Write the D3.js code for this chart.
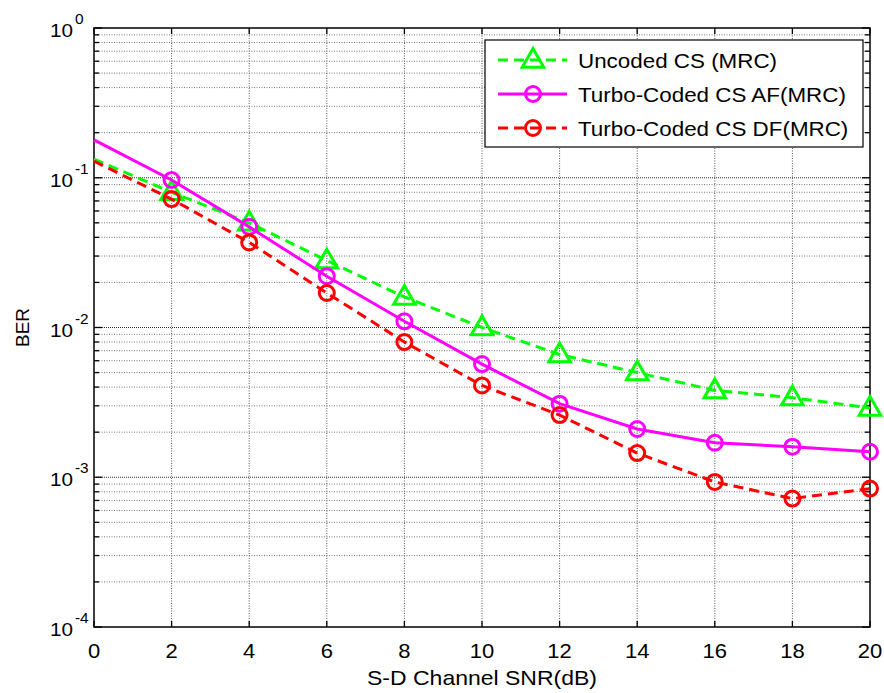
<!DOCTYPE html>
<html><head><meta charset="utf-8">
<script src="https://cdn.jsdelivr.net/npm/d3@7"></script>
<style>body{margin:0;background:#fff}svg{display:block}text{font-family:"Liberation Sans",Arial,sans-serif;fill:#000}</style>
</head><body><svg id="c" width="884" height="693"></svg>
<script>
const snr = [0,2,4,6,8,10,12,14,16,18,20];
const uncoded = [0.133,0.080,0.050,0.028,0.016,0.0100,0.0066,0.0050,0.0038,0.0034,0.0029];
const turboAF = [0.179,0.0966,0.047,0.022,0.011,0.0057,0.0031,0.0021,0.0017,0.0016,0.00148];
const turboDF = [0.129,0.072,0.037,0.017,0.0080,0.0041,0.0026,0.00145,0.00093,0.00072,0.00084];
const xTicks = [0,2,4,6,8,10,12,14,16,18,20];
const yExps = [0,-1,-2,-3,-4];
const seriesNames = ["Uncoded CS (MRC)","Turbo-Coded CS AF(MRC)","Turbo-Coded CS DF(MRC)"];

const svg = d3.select("#c");
const L=94,R=870,T=28,B=627;
const x = d3.scaleLinear().domain([0,20]).range([L,R]);
const y = d3.scaleLog().domain([1e-4,1]).range([B,T]);

// grid
const g = svg.append("g");
xTicks.filter(v=>v>0&&v<20).forEach(v=>{
  g.append("line").attr("x1",x(v)).attr("x2",x(v)).attr("y1",T).attr("y2",B)
   .attr("stroke","#555").attr("stroke-width",1).attr("stroke-dasharray","1,1.5");
});
const minor=[];
for(let e=-4;e<0;e++){for(let m=2;m<=9;m++)minor.push(m*Math.pow(10,e));}
minor.forEach(v=>{
  g.append("line").attr("x1",L).attr("x2",R).attr("y1",y(v)).attr("y2",y(v))
   .attr("stroke","#777").attr("stroke-width",1).attr("stroke-dasharray","1,1.5");
});
yExps.filter(e=>e>-4&&e<0).forEach(e=>{
  g.append("line").attr("x1",L).attr("x2",R).attr("y1",y(Math.pow(10,e))).attr("y2",y(Math.pow(10,e)))
   .attr("stroke","#333").attr("stroke-width",1.2).attr("stroke-dasharray","1,1");
});

// ticks
const tk = svg.append("g").attr("stroke","#000").attr("stroke-width",1.3);
minor.forEach(v=>{
  tk.append("line").attr("x1",L).attr("x2",L+5).attr("y1",y(v)).attr("y2",y(v));
  tk.append("line").attr("x1",R).attr("x2",R-5).attr("y1",y(v)).attr("y2",y(v));
});
yExps.forEach(e=>{
  const v=Math.pow(10,e);
  tk.append("line").attr("x1",L).attr("x2",L+8).attr("y1",y(v)).attr("y2",y(v));
  tk.append("line").attr("x1",R).attr("x2",R-8).attr("y1",y(v)).attr("y2",y(v));
});
xTicks.forEach(v=>{
  tk.append("line").attr("x1",x(v)).attr("x2",x(v)).attr("y1",B).attr("y2",B-6);
  tk.append("line").attr("x1",x(v)).attr("x2",x(v)).attr("y1",T).attr("y2",T+6);
});

// box
svg.append("rect").attr("x",L).attr("y",T).attr("width",R-L).attr("height",B-T)
  .attr("fill","none").attr("stroke","#000").attr("stroke-width",1.5);

// tick labels
xTicks.forEach(v=>{
  svg.append("g").attr("transform",`translate(${x(v)},658) scale(1.1,1)`)
    .append("text").attr("text-anchor","middle").attr("font-size",20).text(v);
});
yExps.forEach(e=>{
  const yy=y(Math.pow(10,e));
  svg.append("g").attr("transform",`translate(73,${yy+9}) scale(1.15,1)`)
    .append("text").attr("text-anchor","end").attr("font-size",18).text("10");
  svg.append("g").attr("transform",`translate(75,${yy-4}) scale(1.1,1)`)
    .append("text").attr("text-anchor","start").attr("font-size",14).text(String(e));
});

// axis labels
svg.append("g").attr("transform",`translate(${(L+R)/2},685) scale(1.15,1)`)
  .append("text").attr("text-anchor","middle").attr("font-size",20).text("S-D Channel SNR(dB)");
svg.append("text").attr("transform",`translate(29,${(T+B)/2}) rotate(-90)`)
  .attr("text-anchor","middle").attr("font-size",19).text("BER");

// series
const series=[
  {name:seriesNames[0],vals:uncoded,color:"#00ff00",dash:"10,6",marker:"tri"},
  {name:seriesNames[1],vals:turboAF,color:"#ff00ff",dash:null,marker:"circ"},
  {name:seriesNames[2],vals:turboDF,color:"#ff0000",dash:"10,6",marker:"circ"}
];
const line=d3.line().x(d=>x(d[0])).y(d=>y(d[1]));
function marker(sel,type,cx,cy,color){
  if(type==="tri"){
    const s=d3.symbol().type(d3.symbolTriangle).size(200);
    sel.append("path").attr("d",s()).attr("transform",`translate(${cx},${cy+1})`)
      .attr("fill","none").attr("stroke",color).attr("stroke-width",3);
  } else {
    sel.append("circle").attr("cx",cx).attr("cy",cy).attr("r",7.5)
      .attr("fill","none").attr("stroke",color).attr("stroke-width",3);
  }
}
series.forEach(s=>{
  const pts=snr.map((v,i)=>[v,s.vals[i]]);
  const p=svg.append("path").attr("d",line(pts)).attr("fill","none")
    .attr("stroke",s.color).attr("stroke-width",3);
  if(s.dash)p.attr("stroke-dasharray",s.dash);
  const mg=svg.append("g");
  pts.filter(d=>d[0]>0).forEach(d=>marker(mg,s.marker,x(d[0]),y(d[1]),s.color));
});

// legend
const lg=svg.append("g");
lg.append("rect").attr("x",485).attr("y",40).attr("width",378).attr("height",107)
  .attr("fill","#fff").attr("stroke","#000").attr("stroke-width",1.2);
series.forEach((s,i)=>{
  const ry=60+i*34;
  const l=lg.append("line").attr("x1",498).attr("x2",567).attr("y1",ry).attr("y2",ry)
    .attr("stroke",s.color).attr("stroke-width",3);
  if(s.dash)l.attr("stroke-dasharray","10,6");
  marker(lg,s.marker,533,ry,s.color);
  lg.append("g").attr("transform",`translate(578,${ry+8}) scale(1.12,1)`)
    .append("text").attr("font-size",20).text(s.name);
});
</script></body></html>
